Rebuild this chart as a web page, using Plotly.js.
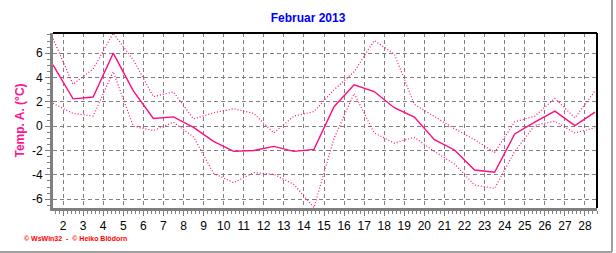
<!DOCTYPE html>
<html><head><meta charset="utf-8">
<script src="https://cdn.plot.ly/plotly-3.0.1.min.js"></script>
<style>html,body{margin:0;padding:0;background:#fff;}#c{width:616px;height:253px;}</style>
</head><body><div id="c"></div>
<script>
var days = [1.5,2.5,3.5,4.5,5.5,6.5,7.5,8.5,9.5,10.5,11.5,12.5,13.5,14.5,15.5,16.5,17.5,18.5,19.5,20.5,21.5,22.5,23.5,24.5,25.5,26.5,27.5,28.5];
var tempMean = [5.05,2.25,2.4,6.0,2.9,0.64,0.77,-0.1,-1.24,-2.07,-2.0,-1.66,-2.07,-1.9,1.6,3.4,2.85,1.52,0.75,-1.1,-1.95,-3.6,-3.78,-0.64,0.33,1.24,0.05,1.16];
var tempMax = [7.18,3.45,4.7,7.65,5.45,2.43,2.82,0.6,1.1,1.44,1.05,-0.55,0.83,1.2,3.0,4.47,7.04,5.94,1.8,0.8,-0.2,-1.1,-2.15,0.36,0.83,2.29,0.69,2.9];
var tempMin = [1.88,1.05,0.83,4.48,0.0,-0.36,0.33,-0.88,-3.87,-4.64,-3.81,-3.95,-4.78,-6.69,-1.0,2.7,-0.55,-1.38,-0.91,-2.07,-3.1,-4.83,-5.11,-2.07,0.08,0.41,-0.55,-0.14];
var tickDays = [2,3,4,5,6,7,8,9,10,11,12,13,14,15,16,17,18,19,20,21,22,23,24,25,26,27,28];
var yTicks = [-6,-4,-2,0,2,4,6];

var col = '#FF0A80';
var traces = [
  {x: days, y: tempMax, mode: 'lines', line: {color: col, width: 1.2, dash: '1px,2px'}, hoverinfo: 'skip'},
  {x: days, y: tempMin, mode: 'lines', line: {color: col, width: 1.2, dash: '1px,2px'}, hoverinfo: 'skip'},
  {x: days, y: tempMean, mode: 'lines', line: {color: col, width: 1.4}, hoverinfo: 'skip'}
];
var layout = {
  width: 616, height: 253,
  margin: {l: 53, r: 19, t: 33, b: 45},
  paper_bgcolor: '#fff', plot_bgcolor: '#fff',
  showlegend: false,
  font: {family: 'Liberation Sans, Arial, sans-serif', size: 12, color: '#000'},
  title: {text: 'Februar 2013', font: {size: 12, color: '#0000FF', family: 'Liberation Sans, Arial, sans-serif', weight: 'bold'}, x: 0.5, xanchor: 'center', y: 0.93, yanchor: 'middle', yref: 'container'},
  xaxis: {
    range: [1.5, 28.6], tickvals: tickDays, ticktext: tickDays.map(String),
    showgrid: true, gridcolor: '#808080', griddash: '4px,3px', gridwidth: 1,
    showline: true, linecolor: '#808080', linewidth: 3,
    ticks: 'outside', ticklen: 5, tickcolor: '#808080', tickwidth: 1,
    minor: {dtick: 0.2, tick0: 2, ticks: 'outside', ticklen: 3, tickcolor: '#808080', showgrid: false},
    zeroline: false, tickfont: {size: 12}
  },
  yaxis: {
    range: [-6.72, 7.66], tickvals: yTicks, ticktext: yTicks.map(String),
    showgrid: true, gridcolor: '#808080', griddash: '4px,3px', gridwidth: 1,
    showline: true, linecolor: '#808080', linewidth: 3,
    ticks: 'outside', ticklen: 5, tickcolor: '#808080', tickwidth: 1,
    minor: {dtick: 0.5, tick0: 0, ticks: 'outside', ticklen: 3, tickcolor: '#808080', showgrid: false},
    zeroline: false, tickfont: {size: 12},
    title: {text: 'Temp. A. (°C)', font: {size: 12, color: '#FF1493', weight: 'bold'}, standoff: 5}
  },
  shapes: [
    {type: 'line', xref: 'paper', yref: 'paper', x0: 0, x1: 1, y0: 1, y1: 1, line: {color: '#000', width: 2}},
    {type: 'line', xref: 'paper', yref: 'paper', x0: 1, x1: 1, y0: 0, y1: 1, line: {color: '#000', width: 2}},
    {type: 'line', xref: 'paper', yref: 'paper', x0: -53/544, x1: 559/544, y0: -44/175, y1: -44/175, line: {color: '#A0A0A0', width: 2}},
    {type: 'line', xref: 'paper', yref: 'paper', x0: 559/544, x1: 559/544, y0: -44/175, y1: 208/175, line: {color: '#A0A0A0', width: 2}}
  ],
  annotations: [
    {text: '© WsWin32  -  © Heiko Blödorn', xref: 'paper', yref: 'paper', x: -31/544, y: -30/175, xanchor: 'left', yanchor: 'middle', showarrow: false, font: {size: 7, color: '#FF0000', family: 'Liberation Sans Narrow, Liberation Sans, sans-serif', weight: 'bold'}}
  ]
};
Plotly.newPlot('c', traces, layout, {staticPlot: true, displayModeBar: false});
</script>
</body></html>
